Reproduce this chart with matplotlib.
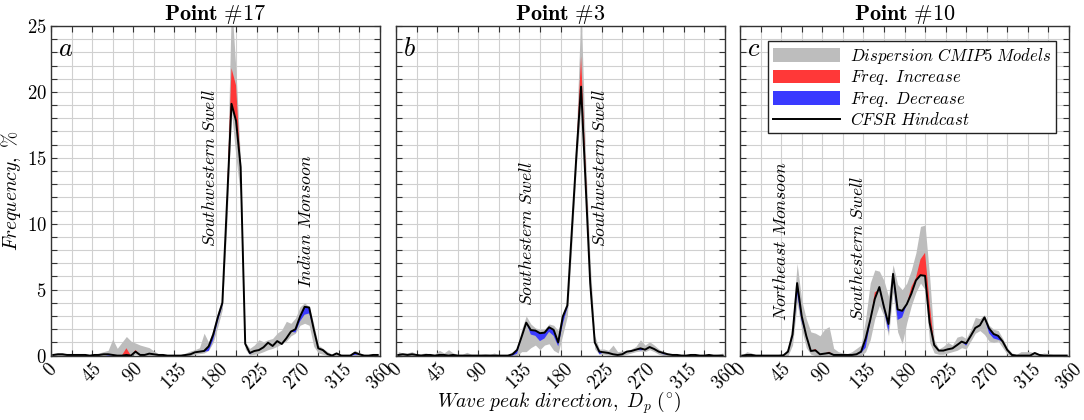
import numpy as np
import matplotlib
matplotlib.use('Agg')
import matplotlib.pyplot as plt
from matplotlib.patches import Patch
from matplotlib.lines import Line2D

plt.rcParams['font.family'] = 'serif'
plt.rcParams['font.serif'] = ['cmr10', 'DejaVu Serif']
plt.rcParams['mathtext.fontset'] = 'cm'
plt.rcParams['axes.formatter.use_mathtext'] = True

# direcciones (centros de clase de 5 grados)
direcciones = np.arange(2.5, 360, 5)

# Point #17
ref_17 = [0.05, 0.1, 0.1, 0.05, 0.05, 0.05, 0.05, 0.05, 0.0, 0.05, 0.05, 0.1,
          0.1, 0.05, 0.0, 0.0, 0.05, 0.0, 0.3, 0.05, 0.05, 0.15, 0.1, 0.05,
          0.05, 0.0, 0.0, 0.0, 0.0, 0.05, 0.1, 0.25, 0.3, 0.35, 0.7, 1.6,
          2.9, 4.0, 11.5, 19.1, 17.8, 14.3, 0.9, 0.2, 0.35, 0.42, 0.63, 0.98,
          0.73, 1.1, 0.88, 1.31, 1.82, 2.0, 2.96, 3.7, 3.65, 2.0, 0.55, 0.42,
          0.12, 0.0, 0.17, 0.0, 0.0, 0.0, 0.22, 0.1, 0.0, 0.0, 0.05, 0.05]
proy_17 = [0.05, 0.1, 0.1, 0.05, 0.05, 0.05, 0.05, 0.05, 0.0, 0.05, 0.05, 0.1,
           0.0, 0.05, 0.0, 0.0, 0.56, 0.0, 0.43, 0.05, 0.05, 0.15, 0.1, 0.05,
           0.05, 0.0, 0.0, 0.0, 0.0, 0.05, 0.1, 0.25, 0.3, 0.3, 0.35, 1.2,
           2.6, 3.8, 12.0, 21.8, 20.5, 14.3, 0.9, 0.1, 0.35, 0.42, 0.63, 0.98,
           0.73, 1.1, 0.88, 1.31, 1.82, 1.75, 2.6, 3.1, 3.2, 2.0, 0.55, 0.42,
           0.12, 0.0, 0.17, 0.0, 0.0, 0.0, 0.05, 0.1, 0.0, 0.0, 0.05, 0.05]
min_17 = [0.0, 0.0, 0.0, 0.0, 0.0, 0.0, 0.0, 0.0, 0.0, 0.0, 0.0, 0.0,
          0.0, 0.0, 0.0, 0.0, 0.0, 0.0, 0.1, 0.0, 0.0, 0.0, 0.0, 0.0,
          0.0, 0.0, 0.0, 0.0, 0.0, 0.0, 0.0, 0.1, 0.15, 0.2, 0.4, 1.0,
          2.2, 3.5, 10.0, 18.5, 15.0, 12.0, 0.5, 0.05, 0.1, 0.17, 0.3, 0.45,
          0.55, 0.7, 0.9, 1.1, 1.5, 1.7, 2.3, 2.45, 2.3, 0.7, 0.2, 0.1,
          0.0, 0.0, 0.0, 0.0, 0.0, 0.0, 0.0, 0.0, 0.0, 0.0, 0.0, 0.0]
max_17 = [0.15, 0.2, 0.2, 0.1, 0.1, 0.1, 0.1, 0.1, 0.05, 0.1, 0.2, 0.3,
          0.4, 1.25, 0.55, 1.0, 1.45, 1.1, 0.95, 0.8, 0.7, 0.6, 0.35, 0.15,
          0.1, 0.05, 0.05, 0.05, 0.1, 0.2, 0.35, 0.45, 0.6, 1.7, 1.0, 2.0,
          3.3, 4.3, 12.5, 27.0, 21.5, 14.6, 1.0, 0.55, 0.8, 1.2, 1.05, 1.2,
          1.3, 1.7, 1.95, 2.6, 2.45, 2.85, 3.7, 4.0, 3.7, 2.4, 0.8, 0.55,
          0.3, 0.1, 0.25, 0.1, 0.05, 0.1, 0.4, 0.2, 0.1, 0.05, 0.1, 0.1]

# Point #3
ref_3 = [0.05, 0.1, 0.05, 0.1, 0.05, 0.0, 0.05, 0.05, 0.0, 0.05, 0.05, 0.0,
         0.05, 0.0, 0.0, 0.0, 0.0, 0.0, 0.0, 0.0, 0.0, 0.0, 0.0, 0.0,
         0.0, 0.1, 0.43, 1.44, 2.5, 1.94, 1.9, 1.7, 1.74, 2.15, 1.95, 1.0,
         2.96, 3.8, 9.6, 15.3, 20.4, 13.0, 5.5, 1.0, 0.3, 0.25, 0.2, 0.1,
         0.05, 0.1, 0.3, 0.35, 0.45, 0.55, 0.45, 0.65, 0.5, 0.3, 0.2, 0.1,
         0.05, 0.05, 0.0, 0.0, 0.05, 0.05, 0.0, 0.0, 0.05, 0.0, 0.0, 0.0]
proy_3 = [0.05, 0.1, 0.05, 0.1, 0.05, 0.0, 0.05, 0.05, 0.0, 0.05, 0.05, 0.0,
          0.05, 0.0, 0.0, 0.0, 0.0, 0.0, 0.0, 0.0, 0.0, 0.0, 0.0, 0.0,
          0.0, 0.0, 0.15, 1.44, 2.5, 1.6, 1.5, 1.1, 1.3, 1.8, 1.5, 0.7,
          2.4, 3.6, 9.6, 15.6, 22.7, 14.3, 6.0, 1.0, 0.1, 0.25, 0.2, 0.1,
          0.05, 0.1, 0.3, 0.35, 0.45, 0.4, 0.45, 0.65, 0.5, 0.3, 0.1, 0.1,
          0.05, 0.05, 0.0, 0.0, 0.05, 0.05, 0.0, 0.0, 0.05, 0.0, 0.0, 0.0]
min_3 = [0.0, 0.0, 0.0, 0.0, 0.0, 0.0, 0.0, 0.0, 0.0, 0.0, 0.0, 0.0,
         0.0, 0.0, 0.0, 0.0, 0.0, 0.0, 0.0, 0.0, 0.0, 0.0, 0.0, 0.0,
         0.0, 0.0, 0.0, 0.3, 0.3, 0.6, 0.8, 0.45, 0.8, 0.9, 0.4, 0.2,
         1.6, 3.0, 8.5, 14.5, 19.0, 12.0, 4.5, 0.5, 0.1, 0.1, 0.05, 0.05,
         0.0, 0.0, 0.1, 0.2, 0.3, 0.35, 0.3, 0.45, 0.3, 0.1, 0.0, 0.0,
         0.0, 0.0, 0.0, 0.0, 0.0, 0.0, 0.0, 0.0, 0.0, 0.0, 0.0, 0.0]
max_3 = [0.3, 0.2, 0.2, 0.3, 0.1, 0.15, 0.2, 0.1, 0.1, 0.4, 0.2, 0.45,
         0.2, 0.1, 0.1, 0.25, 0.1, 0.1, 0.1, 0.15, 0.1, 0.2, 0.05, 0.05,
         0.1, 0.3, 0.6, 2.0, 3.0, 2.4, 2.1, 2.0, 2.0, 2.4, 2.3, 1.9,
         3.2, 4.2, 10.5, 17.0, 26.5, 15.0, 7.0, 1.5, 0.5, 0.5, 0.4, 0.8,
         0.3, 0.35, 0.4, 0.5, 0.7, 1.2, 0.8, 1.05, 0.8, 0.5, 0.3, 0.2,
         0.1, 0.1, 0.1, 0.1, 0.1, 0.1, 0.05, 0.1, 0.1, 0.05, 0.1, 0.2]

# Point #10
ref_10 = [0.0, 0.05, 0.05, 0.0, 0.0, 0.0, 0.0, 0.0, 0.0, 0.02, 0.3, 1.6,
          5.5, 3.0, 1.5, 0.35, 0.4, 0.1, 0.15, 0.2, 0.05, 0.05, 0.05, 0.05,
          0.05, 0.1, 0.3, 1.3, 2.7, 4.3, 5.2, 3.7, 2.4, 6.2, 3.5, 3.4,
          3.9, 4.7, 5.7, 6.1, 6.05, 2.5, 0.8, 0.38, 0.38, 0.48, 0.55, 0.8,
          1.06, 0.93, 1.5, 2.1, 2.3, 2.9, 2.07, 1.64, 1.5, 1.06, 0.42, 0.05,
          0.0, 0.0, 0.0, 0.0, 0.2, 0.05, 0.0, 0.0, 0.0, 0.0, 0.0, 0.0]
proy_10 = [0.0, 0.05, 0.05, 0.0, 0.0, 0.0, 0.0, 0.0, 0.0, 0.02, 0.3, 1.4,
           4.7, 2.6, 1.5, 0.35, 0.5, 0.1, 0.15, 0.3, 0.05, 0.05, 0.05, 0.05,
           0.05, 0.1, 0.2, 0.6, 2.5, 4.8, 5.0, 3.5, 1.8, 6.0, 2.7, 2.9,
           3.9, 5.2, 5.9, 7.3, 7.8, 4.0, 0.8, 0.38, 0.38, 0.48, 0.55, 0.8,
           1.06, 0.75, 1.5, 2.1, 2.3, 2.9, 1.7, 1.3, 1.2, 1.06, 0.42, 0.05,
           0.0, 0.0, 0.0, 0.0, 0.2, 0.05, 0.0, 0.0, 0.0, 0.0, 0.0, 0.0]
min_10 = [0.0, 0.0, 0.0, 0.0, 0.0, 0.0, 0.0, 0.0, 0.0, 0.0, 0.0, 0.8,
          4.0, 2.0, 0.6, 0.1, 0.0, 0.0, 0.0, 0.0, 0.0, 0.0, 0.0, 0.0,
          0.0, 0.0, 0.0, 0.3, 1.2, 2.8, 3.8, 3.0, 1.5, 4.8, 1.8, 0.9,
          2.5, 3.8, 4.8, 5.5, 5.0, 1.0, 0.2, 0.1, 0.1, 0.2, 0.3, 0.4,
          0.6, 0.5, 1.1, 1.7, 1.9, 1.6, 1.1, 1.0, 1.1, 0.6, 0.1, 0.0,
          0.0, 0.0, 0.0, 0.0, 0.0, 0.0, 0.0, 0.0, 0.0, 0.0, 0.0, 0.0]
max_10 = [0.05, 0.3, 0.2, 0.05, 0.05, 0.05, 0.05, 0.05, 0.05, 0.1, 0.6, 2.5,
          7.0, 4.2, 2.8, 1.8, 1.7, 1.5, 2.0, 2.2, 0.55, 0.3, 0.2, 0.15,
          0.3, 0.55, 0.8, 2.8, 5.5, 6.5, 6.4, 5.7, 4.5, 6.9, 5.4, 5.0,
          5.5, 6.5, 7.8, 9.8, 9.9, 6.0, 1.2, 0.5, 0.7, 1.0, 0.8, 1.4,
          1.5, 1.3, 2.0, 2.9, 2.8, 3.1, 2.3, 2.0, 1.9, 1.3, 0.6, 0.2,
          0.1, 0.3, 0.3, 0.3, 0.2, 0.1, 0.2, 0.15, 0.1, 0.1, 0.1, 0.1]

titulos = ['Point #17', 'Point #3', 'Point #10']
letras = ['a', 'b', 'c']
anotaciones = [
    [('Southwestern Swell', 173, 8.2), ('Indian Monsoon', 278, 5.1)],
    [('Southestern Swell', 143, 3.8), ('Southwestern Swell', 223, 8.2)],
    [('Northeast Monsoon', 44, 2.6), ('Southestern Swell', 129, 2.6)],
]
paneles = [(ref_17, proy_17, min_17, max_17),
           (ref_3, proy_3, min_3, max_3),
           (ref_10, proy_10, min_10, max_10)]

gris = '#bdbdbd'
rojo = '#ff3838'
azul = '#3a3aff'

fig = plt.figure(figsize=(10.84, 4.2), dpi=100)
izquierdas = [51, 396, 740]

for k in range(3):
    ax = fig.add_axes([izquierdas[k] / 1084, 64.4 / 420, 329 / 1084, 329.6 / 420])
    ref, proy, mn, mx = [np.array(v) for v in paneles[k]]

    ax.fill_between(direcciones, mn, mx, color=gris, lw=0, zorder=2)
    ax.fill_between(direcciones, ref, proy, where=proy >= ref, interpolate=True,
                    color=rojo, lw=0, zorder=3)
    ax.fill_between(direcciones, ref, proy, where=proy <= ref, interpolate=True,
                    color=azul, lw=0, zorder=3)
    ax.plot(direcciones, ref, color='black', lw=1.4, zorder=4)

    ax.set_xlim(0, 360)
    ax.set_ylim(0, 25)
    ax.set_xticks(np.arange(0, 361, 45))
    ax.set_xticks(np.arange(0, 361, 22.5), minor=True)
    ax.set_yticks(np.arange(0, 26, 5))
    ax.set_yticks(np.arange(0, 26, 1), minor=True)
    ax.grid(True, which='both', color='#d0d0d0', lw=0.8, zorder=0)
    ax.set_axisbelow(True)
    ax.tick_params(which='both', direction='in', top=True, right=True,
                   length=4, width=0.8, color='#333333', labelsize=13.5)
    ax.tick_params(axis='x', which='major', rotation=45, pad=3)
    ax.tick_params(axis='y', which='major', pad=3)
    for s in ax.spines.values():
        s.set_color('#333333')
        s.set_linewidth(1.0)
    if k > 0:
        ax.set_yticklabels([])

    ax.set_title(r'$\mathbf{' + titulos[k].replace(' ', r'\ ').replace('#', r'\#') + '}$',
                 fontsize=16, pad=3)
    ax.text(0.02, 0.965, r'$\mathit{' + letras[k] + '}$', transform=ax.transAxes,
            fontsize=19, ha='left', va='top', zorder=6)
    for texto, xd, yd in anotaciones[k]:
        ax.text(xd, yd, r'$\mathit{' + texto.replace(' ', r'\ ') + '}$', rotation=90,
                ha='center', va='bottom', fontsize=12.8, zorder=6)

    if k == 0:
        ax.set_ylabel(r'$\mathit{Frequency},\ \%$', fontsize=14)
        ax.yaxis.set_label_coords(-0.085, 0.5)
    if k == 2:
        manejadores = [Patch(facecolor=gris, edgecolor='none'),
                       Patch(facecolor=rojo, edgecolor='none'),
                       Patch(facecolor=azul, edgecolor='none'),
                       Line2D([0], [0], color='black', lw=1.4)]
        etiquetas = [r'$\mathit{Dispersion\ CMIP5\ Models}$',
                     r'$\mathit{Freq.\ Increase}$',
                     r'$\mathit{Freq.\ Decrease}$',
                     r'$\mathit{CFSR\ Hindcast}$']
        leg = ax.legend(manejadores, etiquetas, loc='upper right',
                        bbox_to_anchor=(0.962, 0.955), fontsize=12,
                        handlelength=4.0, handleheight=0.85, labelspacing=0.15,
                        borderpad=0.3, handletextpad=0.6, borderaxespad=0,
                        fancybox=False, framealpha=1, edgecolor='#222222')
        leg.get_frame().set_linewidth(1.0)
        leg.set_zorder(7)

fig.text(559.5 / 1084, 1 - 403 / 420,
         r'$\mathit{Wave\ peak\ direction},\ D_p\ (^{\circ})$',
         fontsize=14, ha='center', va='center')

fig.savefig('out.png', dpi=100)
